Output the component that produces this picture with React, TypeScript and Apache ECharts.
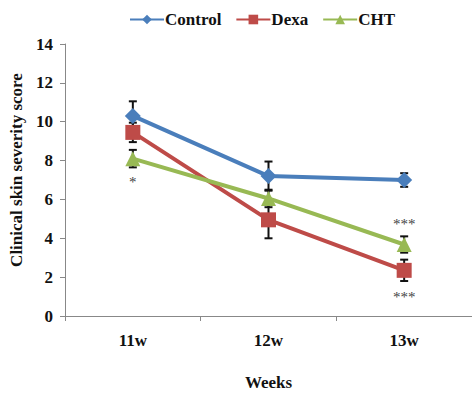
import React, { useEffect, useRef } from "react";
import * as echarts from "echarts";

const categories = ["11w", "12w", "13w"];
const controlValues = [10.3, 7.2, 7.0];
const controlErrors = [0.75, 0.75, 0.35];
const dexaValues = [9.45, 4.95, 2.35];
const dexaErrors = [0.5, 0.95, 0.55];
const chtValues = [8.1, 6.05, 3.68];
const chtErrors = [0.45, 0.45, 0.42];
const annotationCats = ["11w", "13w", "13w"];
const annotationVals = [6.9, 4.75, 1.0];
const annotationTexts = ["*", "***", "***"];

const serif = "'Liberation Serif', 'Times New Roman', serif";
const colors = ["#4a7ebb", "#be4b48", "#98b954"];

function errorSeries(name: string, values: number[], errors: number[]) {
  return {
    type: "custom",
    name: name + "-err",
    z: 1,
    silent: true,
    itemStyle: { color: "#111" },
    data: values.map((v, i) => [i, v - errors[i], v + errors[i]]),
    renderItem: (params: any, api: any) => {
      const x = api.value(0);
      const lo = api.coord([x, api.value(1)]);
      const hi = api.coord([x, api.value(2)]);
      const hw = 4;
      const style = { stroke: "#111", lineWidth: 2 };
      return {
        type: "group",
        children: [
          { type: "line", shape: { x1: lo[0], y1: lo[1], x2: hi[0], y2: hi[1] }, style },
          { type: "line", shape: { x1: lo[0] - hw, y1: lo[1], x2: lo[0] + hw, y2: lo[1] }, style },
          { type: "line", shape: { x1: hi[0] - hw, y1: hi[1], x2: hi[0] + hw, y2: hi[1] }, style },
        ],
      };
    },
  };
}

export default function App() {
  const ref = useRef<HTMLDivElement>(null);
  useEffect(() => {
    if (!ref.current) return;
    const chart = echarts.init(ref.current, null, { renderer: "svg" });
    const lineSeries = (name: string, values: number[], symbol: string, size: number, color: string) => ({
      type: "line",
      name,
      data: values,
      symbol,
      symbolSize: size,
      z: 3,
      lineStyle: { color, width: 4 },
      itemStyle: { color },
    });
    chart.setOption({
      animation: false,
      backgroundColor: "#fff",
      color: colors,
      legend: {
        top: 6,
        left: 124,
        itemWidth: 34,
        itemHeight: 12,
        itemGap: 14,
        data: ["Control", "Dexa", "CHT"],
        textStyle: { fontFamily: serif, fontWeight: "bold", fontSize: 17, color: "#111", padding: [0, 0, 0, -4] },
      },
      grid: { left: 65, right: 0, top: 44, bottom: 80 },
      xAxis: {
        type: "category",
        data: categories,
        boundaryGap: true,
        axisLine: { lineStyle: { color: "#888", width: 1 } },
        axisTick: { show: true, length: 5, lineStyle: { color: "#888" } },
        axisLabel: { fontFamily: serif, fontWeight: "bold", fontSize: 17, color: "#111", margin: 16 },
        name: "Weeks",
        nameLocation: "middle",
        nameGap: 58,
        nameTextStyle: { fontFamily: serif, fontWeight: "bold", fontSize: 17, color: "#111" },
      },
      yAxis: {
        type: "value",
        min: 0,
        max: 14,
        interval: 2,
        splitLine: { show: false },
        axisLine: { show: true, lineStyle: { color: "#888", width: 1 } },
        axisTick: { show: true, length: 5, lineStyle: { color: "#888" } },
        axisLabel: { fontFamily: serif, fontWeight: "bold", fontSize: 17, color: "#111", margin: 12 },
        name: "Clinical skin severity score",
        nameLocation: "middle",
        nameGap: 39,
        nameTextStyle: { fontFamily: serif, fontWeight: "bold", fontSize: 17, color: "#111", padding: [0, 0, 0, 20] },
      },
      series: [
        errorSeries("Control", controlValues, controlErrors),
        errorSeries("Dexa", dexaValues, dexaErrors),
        errorSeries("CHT", chtValues, chtErrors),
        lineSeries("Control", controlValues, "diamond", 16, colors[0]),
        lineSeries("Dexa", dexaValues, "rect", 15, colors[1]),
        lineSeries("CHT", chtValues, "triangle", 15, colors[2]),
        {
          type: "custom",
          name: "annotations",
          silent: true,
          z: 4,
          itemStyle: { color: "#444" },
          data: annotationCats.map((c, i) => [categories.indexOf(c), annotationVals[i]]),
          renderItem: (params: any, api: any) => {
            const p = api.coord([api.value(0), api.value(1)]);
            return {
              type: "text",
              x: p[0],
              y: p[1],
              style: {
                text: annotationTexts[params.dataIndex],
                font: "15px " + serif,
                fill: "#444",
                align: "center",
                verticalAlign: "middle",
              },
            };
          },
        },
      ],
    });
    return () => chart.dispose();
  }, []);
  return <div ref={ref} style={{ width: 472, height: 396, position: "absolute", left: 0, top: 0 }} />;
}
